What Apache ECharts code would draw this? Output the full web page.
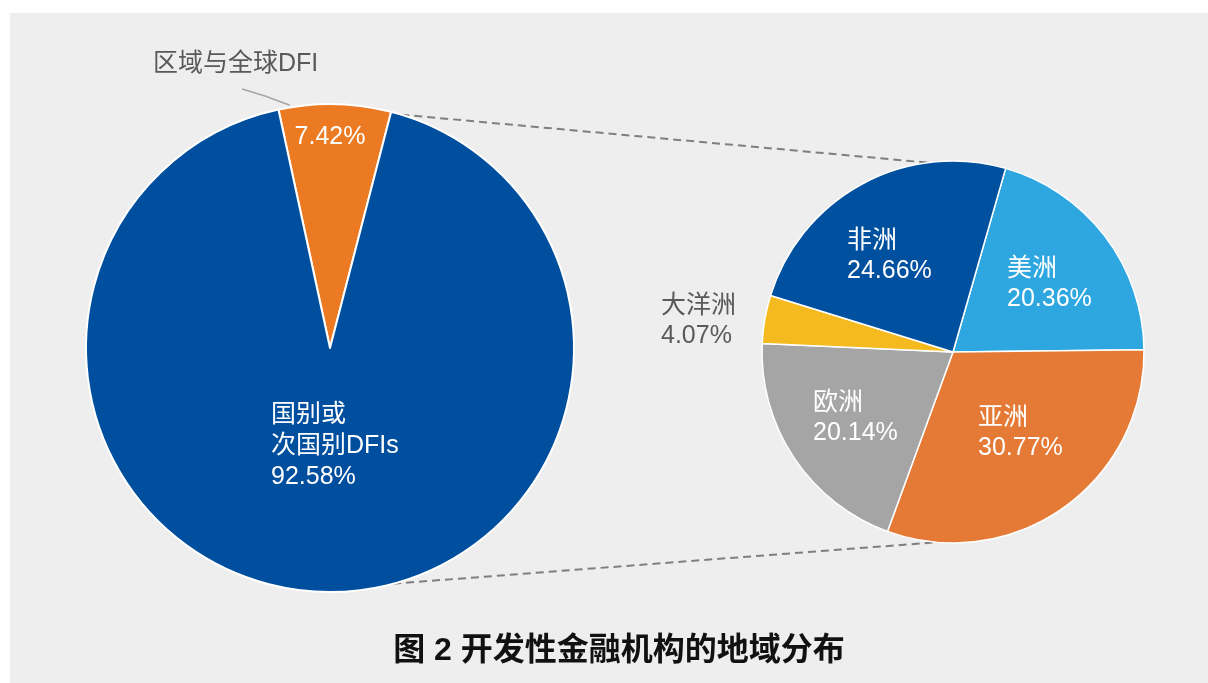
<!DOCTYPE html>
<html>
<head>
<meta charset="utf-8">
<script src="https://cdn.jsdelivr.net/npm/echarts@6/dist/echarts.min.js"></script>
<style>
  html, body { margin: 0; padding: 0; background: #fff; }
  #main { width: 1208px; height: 683px; }
</style>
</head>
<body>
<div id="main"></div>
<script>
// data
const mainNames = ['区域与全球DFI', '国别或\n次国别DFIs'];
const mainValues = [7.42, 92.58];
const mainColors = ['#ec7a23', '#004f9f'];

const regionNames = ['美洲', '亚洲', '欧洲', '大洋洲', '非洲'];
const regionValues = [20.36, 30.77, 20.14, 4.07, 24.66];
const regionColors = ['#2ea7e0', '#e47a35', '#a5a5a5', '#f4ba1f', '#0050a0'];

const titleText = '图 2 开发性金融机构的地域分布';

// layout
const L = { cx: 330, cy: 348, r: 244 };
const R = { cx: 953, cy: 352, r: 191 };
const FONT = '"Liberation Sans", "Noto Sans CJK SC", sans-serif';

// point on a circle, angle in degrees clockwise from top
function pt(c, deg, r) {
  const a = deg * Math.PI / 180;
  const rr = r == null ? c.r : r;
  return [c.cx + rr * Math.sin(a), c.cy - rr * Math.cos(a)];
}

// label placement relative to pie centre: [dx, dy, align, verticalAlign]
const mainLabelPos = [[0, -211, 'center', 'middle'], [-59, 52, 'left', 'top']];
const regionLabelPos = [
  [54, -98, 'left', 'top'],
  [25, 51, 'left', 'top'],
  [-140, 36, 'left', 'top'],
  [-292, -61, 'left', 'top'],
  [-106, -126, 'left', 'top']
];

const pct = v => v.toFixed(2) + '%';

const chart = echarts.init(document.getElementById('main'));

const top1 = pt(L, 17), top2 = pt(R, -7.5);
const bot1 = pt(L, 165), bot2 = pt(R, 185);

const option = {
  backgroundColor: '#fff',
  animation: false,
  title: {
    text: titleText,
    left: 614,
    textAlign: 'center',
    top: 630,
    textStyle: { fontFamily: FONT, fontSize: 32, fontWeight: 'bold', color: '#111' }
  },
  graphic: [
    { type: 'rect', z: 0, shape: { x: 10, y: 13, width: 1198, height: 670 }, style: { fill: '#eeeeee' } },
    { type: 'line', z: 1, shape: { x1: top1[0], y1: top1[1], x2: top2[0], y2: top2[1] },
      style: { stroke: '#7f7f7f', lineWidth: 2, lineDash: [8, 5] } },
    { type: 'line', z: 1, shape: { x1: bot1[0], y1: bot1[1], x2: bot2[0], y2: bot2[1] },
      style: { stroke: '#7f7f7f', lineWidth: 2, lineDash: [8, 5] } }
  ],
  series: [
    {
      type: 'pie',
      center: [L.cx, L.cy],
      radius: L.r,
      startAngle: 102.2,
      clockwise: true,
      silent: true,
      itemStyle: { borderColor: '#fff', borderWidth: 2 },
      label: {
        position: 'inside',
        color: '#fff',
        fontFamily: FONT,
        fontSize: 25,
        lineHeight: 31,
        formatter: p => p.dataIndex === 0 ? pct(p.value) : p.name + '\n' + pct(p.value)
      },
      labelLine: { show: false },
      labelLayout: p => {
        const o = mainLabelPos[p.dataIndex];
        return { x: L.cx + o[0], y: L.cy + o[1], align: o[2], verticalAlign: o[3] };
      },
      data: mainNames.map((n, i) => ({ name: n, value: mainValues[i], itemStyle: { color: mainColors[i] } }))
    },
    {
      // overlay for the outside name label of the small slice
      type: 'pie',
      center: [L.cx, L.cy],
      radius: L.r,
      startAngle: 102.2,
      silent: true,
      z: 3,
      itemStyle: { color: 'rgba(0,0,0,0)', borderWidth: 0 },
      label: {
        position: 'outside',
        color: '#595959',
        fontFamily: FONT,
        fontSize: 25,
        formatter: p => p.dataIndex === 0 ? p.name : ''
      },
      labelLine: { show: true, lineStyle: { color: '#a6a6a6', width: 1.5 } },
      labelLayout: p => {
        if (p.dataIndex !== 0) return { x: -100, y: -100 };
        const a = pt(L, -9.4, L.r + 2);
        return {
          x: 153, y: 64, align: 'left', verticalAlign: 'middle',
          labelLinePoints: [a, [a[0] - 24, a[1] - 9], [242, 89]]
        };
      },
      data: mainNames.map((n, i) => ({
        name: n, value: mainValues[i],
        labelLine: { show: i === 0 }
      }))
    },
    {
      type: 'pie',
      center: [R.cx, R.cy],
      radius: R.r,
      startAngle: 74,
      clockwise: true,
      silent: true,
      itemStyle: { borderColor: '#fff', borderWidth: 1.5 },
      label: {
        position: 'inside',
        color: '#fff',
        fontFamily: FONT,
        fontSize: 25,
        lineHeight: 30,
        formatter: p => p.name + '\n' + pct(p.value)
      },
      labelLine: { show: false },
      labelLayout: p => {
        const o = regionLabelPos[p.dataIndex];
        return { x: R.cx + o[0], y: R.cy + o[1], align: o[2], verticalAlign: o[3] };
      },
      data: regionNames.map((n, i) => ({
        name: n, value: regionValues[i],
        itemStyle: { color: regionColors[i] },
        label: n === '大洋洲' ? { color: '#595959' } : undefined
      }))
    }
  ]
};

chart.setOption(option);
</script>
</body>
</html>
